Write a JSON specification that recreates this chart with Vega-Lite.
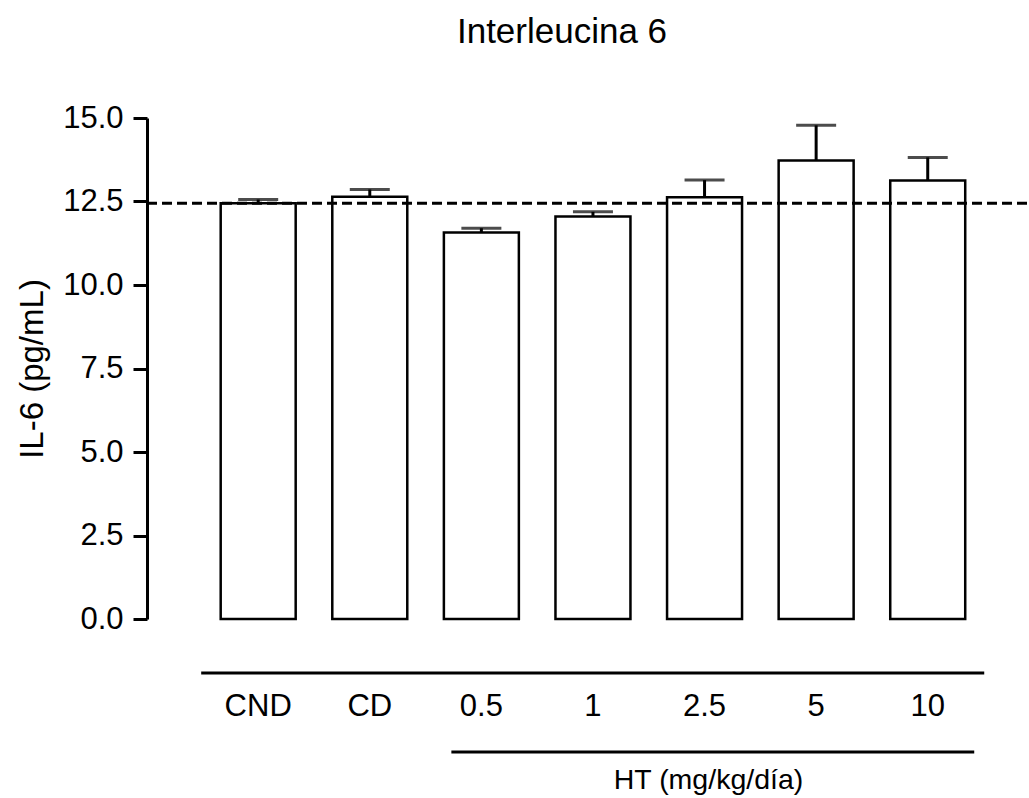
{
  "$schema": "https://vega.github.io/schema/vega-lite/v6.json",
  "width": 880,
  "height": 501,
  "autosize": {"type": "none"},
  "padding": {"left": 147, "top": 118, "right": 2, "bottom": 179},
  "background": "white",
  "config": {"view": {"stroke": null}, "font": "Liberation Sans"},
  "title": {"text": "Interleucina 6", "fontSize": 35, "fontWeight": "normal", "color": "black", "anchor": "middle", "dx": -25, "baseline": "alphabetic", "offset": 24},
  "data": {"values": [
    {"group": "CND", "mean": 12.45, "upper": 12.56},
    {"group": "CD", "mean": 12.64, "upper": 12.86},
    {"group": "0.5", "mean": 11.57, "upper": 11.70},
    {"group": "1", "mean": 12.05, "upper": 12.19},
    {"group": "2.5", "mean": 12.63, "upper": 13.14},
    {"group": "5", "mean": 13.73, "upper": 14.78},
    {"group": "10", "mean": 13.13, "upper": 13.82}
  ]},
  "layer": [
    {
      "mark": {"type": "rule", "strokeWidth": 3, "color": "black"},
      "encoding": {
        "x": {"field": "group", "type": "nominal", "sort": null},
        "y": {"field": "mean", "type": "quantitative"},
        "y2": {"field": "upper"}
      }
    },
    {
      "mark": {"type": "bar", "fill": "white", "stroke": "black", "strokeWidth": 2.5},
      "encoding": {
        "x": {"field": "group", "type": "nominal", "sort": null,
          "scale": {"paddingInner": 0.328, "paddingOuter": 0.607, "align": 0.544},
          "axis": {"domain": false, "ticks": false, "tickSize": 0, "labelAngle": 0, "labelAlign": "center", "labelFontSize": 31, "labelColor": "black", "labelPadding": 87,
            "title": "HT (mg/kg/día)", "titleFontSize": 28.5, "titleFontWeight": "normal", "titleColor": "black", "titleX": 561, "titleY": 169, "titleBaseline": "alphabetic", "titleAlign": "center"}},
        "y": {"field": "mean", "type": "quantitative",
          "scale": {"domain": [0, 15], "nice": false},
          "axis": {"values": [0, 2.5, 5, 7.5, 10, 12.5, 15], "format": ".1f", "grid": false, "tickSize": 14, "tickWidth": 3, "tickColor": "black", "domainWidth": 3, "domainColor": "black",
            "labelFontSize": 31, "labelColor": "black", "labelPadding": 10,
            "title": "IL-6 (pg/mL)", "titleFontSize": 33, "titleFontWeight": "normal", "titleColor": "black", "titleX": -115, "titleY": 250.5, "titleAngle": -90, "titleBaseline": "middle", "titleAlign": "center"}}
      }
    },
    {
      "mark": {"type": "tick", "thickness": 3, "size": 40, "color": "black"},
      "encoding": {
        "x": {"field": "group", "type": "nominal", "sort": null},
        "y": {"field": "upper", "type": "quantitative"}
      }
    },
    {
      "data": {"values": [{}]},
      "mark": {"type": "rule", "strokeDash": [10, 5], "strokeWidth": 3, "color": "black"},
      "encoding": {"y": {"datum": 12.45}}
    },
    {
      "data": {"values": [{}]},
      "mark": {"type": "rule", "strokeWidth": 3, "color": "black", "xOffset": -57, "x2Offset": 56.5, "yOffset": 54},
      "encoding": {"x": {"datum": "CND"}, "x2": {"datum": "10"}, "y": {"datum": 0}}
    },
    {
      "data": {"values": [{}]},
      "mark": {"type": "rule", "strokeWidth": 3, "color": "black", "xOffset": -30, "x2Offset": 46.5, "yOffset": 133},
      "encoding": {"x": {"datum": "0.5"}, "x2": {"datum": "10"}, "y": {"datum": 0}}
    }
  ]
}
